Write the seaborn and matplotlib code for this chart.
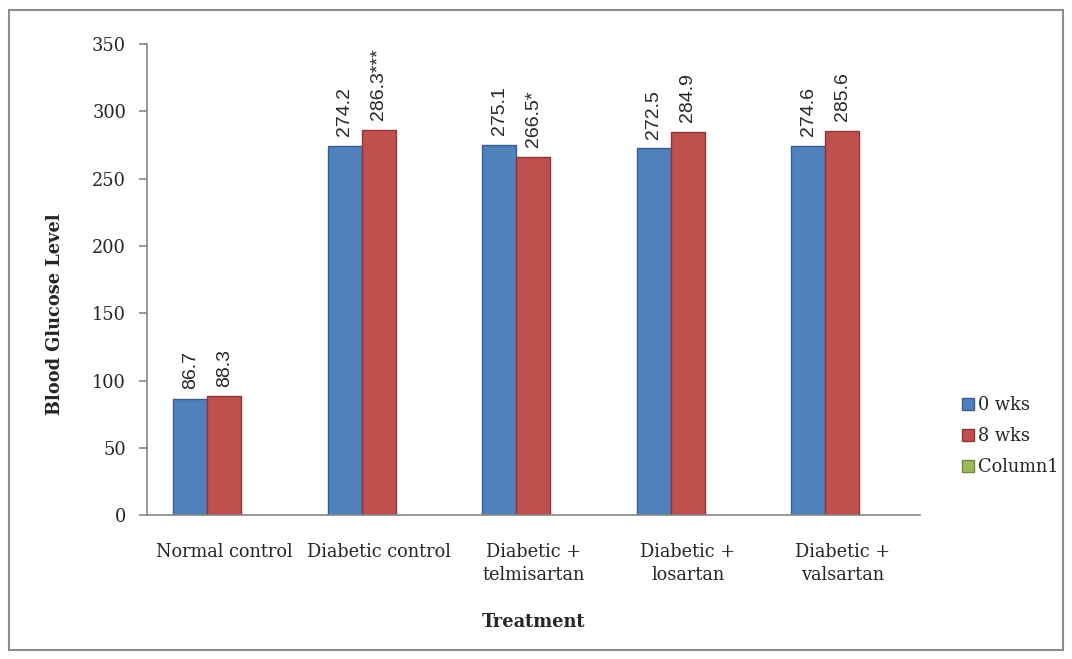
import numpy as np
import pandas as pd
import matplotlib
matplotlib.use("Agg")
import matplotlib.pyplot as plt
import matplotlib.patches as mpatches
import seaborn as sns

# data
treatments = ["Normal control", "Diabetic control", "Diabetic +\ntelmisartan",
              "Diabetic +\nlosartan", "Diabetic +\nvalsartan"]
series = ["0 wks", "8 wks", "Column1"]
wk0 = [86.7, 274.2, 275.1, 272.5, 274.6]
wk8 = [88.3, 286.3, 266.5, 284.9, 285.6]
col1 = [np.nan] * 5
labels_wk0 = ["86.7", "274.2", "275.1", "272.5", "274.6"]
labels_wk8 = ["88.3", "286.3***", "266.5*", "284.9", "285.6"]

df = pd.DataFrame({
    "Treatment": treatments * 3,
    "Series": [s for s in series for _ in treatments],
    "Value": wk0 + wk8 + col1,
})

sns.set_style("white")
plt.rcParams["font.family"] = ["DejaVu Serif"]

colors = ["#4F81BD", "#C0504D", "#9BBB59"]
edges = ["#385D8A", "#8C3836", "#71893F"]

fig = plt.figure(figsize=(10.72, 6.59), dpi=100)
ax = fig.add_axes([0.137, 0.218, 0.721, 0.715])

sns.barplot(data=df, x="Treatment", y="Value", hue="Series", hue_order=series,
            order=treatments, palette=colors, width=0.66, gap=0, ax=ax,
            errorbar=None, legend=False, saturation=1)

for cont, ec in zip(ax.containers, edges):
    for bar in cont:
        bar.set_edgecolor(ec)
        bar.set_linewidth(1.0)

lab_family = ["Liberation Sans", "DejaVu Sans"]
ax.bar_label(ax.containers[0], labels=labels_wk0, rotation=90, padding=7,
             fontfamily=lab_family, fontsize=14)
ax.bar_label(ax.containers[1], labels=labels_wk8, rotation=90, padding=7,
             fontfamily=lab_family, fontsize=14)

ax.set_ylim(0, 350)
ax.set_yticks(np.arange(0, 351, 50))
ax.set_xlim(-0.5, len(treatments) - 0.5)
ax.set_xticks(range(len(treatments)))
ax.set_xticklabels(treatments, fontsize=12.8, linespacing=1.35)
ax.set_xticks(np.arange(-0.5, len(treatments)), minor=True)
ax.tick_params(axis="x", which="major", length=0, pad=20)
ax.tick_params(axis="x", which="minor", length=6, color="#868686", width=1.2, direction="out")
ax.tick_params(axis="y", length=6, color="#868686", width=1.2, direction="out",
               labelsize=12.8, pad=9)
ax.tick_params(axis="both", bottom=True, left=True)

for s in ["top", "right"]:
    ax.spines[s].set_visible(False)
for s in ["left", "bottom"]:
    ax.spines[s].set_color("#868686")
    ax.spines[s].set_linewidth(1.2)

ax.set_xlabel("Treatment", fontsize=12.8, fontweight="bold", va="center")
ax.xaxis.set_label_coords(0.5, -0.227)
ax.set_ylabel("Blood Glucose Level", fontsize=12.8, fontweight="bold", va="center")
ax.yaxis.set_label_coords(-0.119, 0.427)

handles = [mpatches.Patch(facecolor=c, edgecolor=e, label=s)
           for c, e, s in zip(colors, edges, series)]
fig.legend(handles=handles, loc="center left", bbox_to_anchor=(0.882, 0.338),
           frameon=False, fontsize=12.8, handlelength=0.7, handleheight=0.7,
           handletextpad=0.2, labelspacing=0.72)

fig.patches.append(mpatches.Rectangle((0.008, 0.013), 0.984, 0.972,
                                      transform=fig.transFigure, fill=False,
                                      edgecolor="#8C8C8C", linewidth=1.5))

fig.savefig("out.png", dpi=100)
